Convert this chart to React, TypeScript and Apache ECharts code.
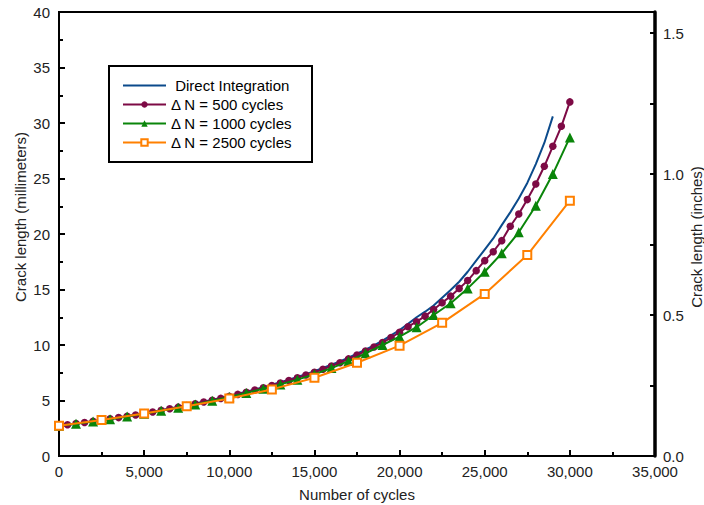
import React, { useEffect, useRef } from "react";
import * as echarts from "echarts";

// ---- data (cycles, crack length in millimetres) ----
const directCycles = [
  0, 500, 1000, 1500, 2000, 2500, 3000, 3500, 4000, 4500, 5000, 5500, 6000, 6500, 7000, 7500, 8000, 8500, 9000, 9500,
  10000, 10500, 11000, 11500, 12000, 12500, 13000, 13500, 14000, 14500, 15000, 15500, 16000, 16500, 17000, 17500,
  18000, 18500, 19000, 19500, 20000, 20500, 21000, 21500, 22000, 22500, 23000, 23500, 24000, 24500, 25000, 25500,
  26000, 26500, 27000, 27500, 28000, 28500, 29000,
];
const directLength = [
  2.72, 2.82, 2.92, 3.02, 3.13, 3.24, 3.35, 3.47, 3.59, 3.71, 3.85, 3.98, 4.12, 4.27, 4.42, 4.57, 4.73, 4.89, 5.06, 5.23,
  5.41, 5.6, 5.79, 5.99, 6.2, 6.42, 6.65, 6.88, 7.13, 7.38, 7.65, 7.93, 8.22, 8.53, 8.86, 9.21,
  9.58, 9.97, 10.4, 10.86, 11.35, 11.9, 12.5, 13.0, 13.55, 14.25, 14.95, 15.7, 16.6, 17.6, 18.6, 19.6,
  20.8, 21.95, 23.2, 24.6, 26.3, 28.2, 30.6,
];

const cycles500 = [
  0, 500, 1000, 1500, 2000, 2500, 3000, 3500, 4000, 4500, 5000, 5500, 6000, 6500, 7000, 7500, 8000, 8500, 9000, 9500,
  10000, 10500, 11000, 11500, 12000, 12500, 13000, 13500, 14000, 14500, 15000, 15500, 16000, 16500, 17000, 17500,
  18000, 18500, 19000, 19500, 20000, 20500, 21000, 21500, 22000, 22500, 23000, 23500, 24000, 24500, 25000, 25500,
  26000, 26500, 27000, 27500, 28000, 28500, 29000, 29500, 30000,
];
const length500 = [
  2.72, 2.82, 2.92, 3.02, 3.13, 3.24, 3.35, 3.46, 3.58, 3.7, 3.84, 3.97, 4.11, 4.25, 4.4, 4.55, 4.7, 4.86, 5.02, 5.19,
  5.37, 5.55, 5.74, 5.94, 6.14, 6.35, 6.57, 6.8, 7.04, 7.29, 7.55, 7.82, 8.1, 8.4, 8.75, 9.1,
  9.45, 9.82, 10.22, 10.67, 11.15, 11.65, 12.1, 12.6, 13.2, 13.8, 14.4, 15.1, 15.8, 16.7, 17.6, 18.4,
  19.4, 20.7, 21.8, 23.1, 24.5, 26.1, 27.9, 29.7, 31.9,
];

const cycles1000 = [
  0, 1000, 2000, 3000, 4000, 5000, 6000, 7000, 8000, 9000, 10000, 11000, 12000, 13000, 14000, 15000,
  16000, 17000, 18000, 19000, 20000, 21000, 22000, 23000, 24000, 25000, 26000, 27000, 28000, 29000, 30000,
];
const length1000 = [
  2.72, 2.9, 3.1, 3.32, 3.55, 3.8, 4.07, 4.35, 4.65, 4.97, 5.31, 5.68, 6.06, 6.45, 6.88, 7.36,
  7.92, 8.55, 9.25, 10.0, 10.75, 11.6, 12.7, 13.76, 15.1, 16.6, 18.26, 20.15, 22.55, 25.4, 28.7,
];

const cycles2500 = [0, 2500, 5000, 7500, 10000, 12500, 15000, 17500, 20000, 22500, 25000, 27500, 30000];
const length2500 = [2.72, 3.24, 3.82, 4.48, 5.18, 6.0, 7.05, 8.4, 9.94, 12.0, 14.6, 18.1, 23.0];

const seriesNames = [" Direct Integration", "\u0394 N = 500 cycles", "\u0394 N = 1000 cycles", "\u0394 N = 2500 cycles"];
const seriesColors = ["#0b4a8b", "#7d0a45", "#0a850a", "#ff8000"];

const xTitle = "Number of cycles";
const yLeftTitle = "Crack length (millimeters)";
const yRightTitle = "Crack length (inches)";
const MM_PER_INCH = 25.4;

const FONT = "'Liberation Sans', Arial, Helvetica, sans-serif";

const pairs = (xs: number[], ys: number[]) => xs.map((x, i) => [x, ys[i]]);

export default function App() {
  const ref = useRef<HTMLDivElement>(null);

  useEffect(() => {
    if (!ref.current) return;
    const chart = echarts.init(ref.current, undefined, { renderer: "svg" });
    const gridLeft = 59;
    const gridTop = 12;
    const gridRight = 49;
    const gridBottom = 49;

    const tickLabel = { color: "#222", fontSize: 15, fontFamily: FONT };

    chart.setOption({
      animation: false,
      backgroundColor: "#fff",
      grid: {
        left: gridLeft,
        top: gridTop,
        right: gridRight,
        bottom: gridBottom,
        show: true,
        borderColor: "#000",
        borderWidth: 2,
      },
      legend: {
        orient: "vertical",
        left: 109,
        top: 66,
        padding: [12, 14, 12, 13],
        itemWidth: 43,
        itemHeight: 8,
        itemGap: 4,
        textStyle: { color: "#000", fontSize: 15, fontFamily: FONT, lineHeight: 15 },
        data: [
          { name: seriesNames[0], itemStyle: { opacity: 0 } },
          { name: seriesNames[1] },
          { name: seriesNames[2] },
          { name: seriesNames[3] },
        ],
      },
      xAxis: {
        type: "value",
        min: 0,
        max: 35000,
        interval: 5000,
        axisLine: { lineStyle: { color: "#000", width: 2 } },
        axisTick: { inside: true, length: 6, lineStyle: { color: "#000", width: 2 } },
        minorTick: { show: true, splitNumber: 2, length: 4, lineStyle: { color: "#000", width: 2 } },
        splitLine: { show: false },
        axisLabel: {
          ...tickLabel,
          margin: 8,
          formatter: (v: number) => v.toLocaleString("en-US"),
        },
      },
      yAxis: [
        {
          type: "value",
          position: "left",
          min: 0,
          max: 40,
          interval: 5,
          axisLine: { show: true, lineStyle: { color: "#000", width: 2 } },
          axisTick: { show: true, inside: true, length: 6, lineStyle: { color: "#000", width: 2 } },
          minorTick: { show: true, splitNumber: 2, length: 4, lineStyle: { color: "#000", width: 2 } },
          splitLine: { show: false },
          axisLabel: { ...tickLabel, margin: 9 },
        },
        {
          type: "value",
          position: "right",
          min: 0,
          max: 40 / MM_PER_INCH,
          interval: 0.25,
          axisLine: { show: true, lineStyle: { color: "#000", width: 3.5 } },
          axisTick: { show: true, inside: true, length: 5, lineStyle: { color: "#000", width: 2 } },
          splitLine: { show: false },
          axisLabel: {
            ...tickLabel,
            margin: 8,
            showMaxLabel: false,
            formatter: (v: number) => {
              const k = Math.round(v / 0.5);
              return Math.abs(v - k * 0.5) < 1e-6 ? v.toFixed(1) : "";
            },
          },
        },
      ],
      graphic: [
        {
          type: "rect",
          shape: { x: 109, y: 66, width: 203, height: 96 },
          style: { fill: "none", stroke: "#000", lineWidth: 2 },
          z: 10,
        },
        {
          type: "text",
          x: 357,
          y: 494,
          style: {
            text: xTitle,
            fontSize: 15,
            fontFamily: FONT,
            fill: "#222",
            textAlign: "center",
            textVerticalAlign: "middle",
          },
        },
        {
          type: "text",
          x: 20,
          y: 217,
          rotation: Math.PI / 2,
          style: {
            text: yLeftTitle,
            fontSize: 15,
            fontFamily: FONT,
            fill: "#222",
            textAlign: "center",
            textVerticalAlign: "middle",
          },
        },
        {
          type: "text",
          x: 696,
          y: 237,
          rotation: Math.PI / 2,
          style: {
            text: yRightTitle,
            fontSize: 15,
            fontFamily: FONT,
            fill: "#222",
            textAlign: "center",
            textVerticalAlign: "middle",
          },
        },
      ],
      series: [
        {
          name: seriesNames[0],
          type: "line",
          yAxisIndex: 0,
          data: pairs(directCycles, directLength),
          showSymbol: false,
          symbol: "none",
          lineStyle: { color: seriesColors[0], width: 2 },
          itemStyle: { color: seriesColors[0] },
          z: 2,
        },
        {
          name: seriesNames[1],
          type: "line",
          yAxisIndex: 0,
          data: pairs(cycles500, length500),
          symbol: "circle",
          symbolSize: 7.5,
          lineStyle: { color: seriesColors[1], width: 2 },
          itemStyle: { color: seriesColors[1] },
          z: 3,
        },
        {
          name: seriesNames[2],
          type: "line",
          yAxisIndex: 0,
          data: pairs(cycles1000, length1000),
          symbol: "triangle",
          symbolSize: 10,
          lineStyle: { color: seriesColors[2], width: 2 },
          itemStyle: { color: seriesColors[2] },
          z: 4,
        },
        {
          name: seriesNames[3],
          type: "line",
          yAxisIndex: 0,
          data: pairs(cycles2500, length2500),
          symbol: "emptyRect",
          symbolSize: 8,
          lineStyle: { color: seriesColors[3], width: 2 },
          itemStyle: { color: seriesColors[3], borderColor: seriesColors[3], borderWidth: 2.5 },
          z: 5,
        },
      ],
    });

    return () => chart.dispose();
  }, []);

  return <div ref={ref} style={{ width: 704, height: 505, position: "absolute", left: 0, top: 0 }} />;
}
